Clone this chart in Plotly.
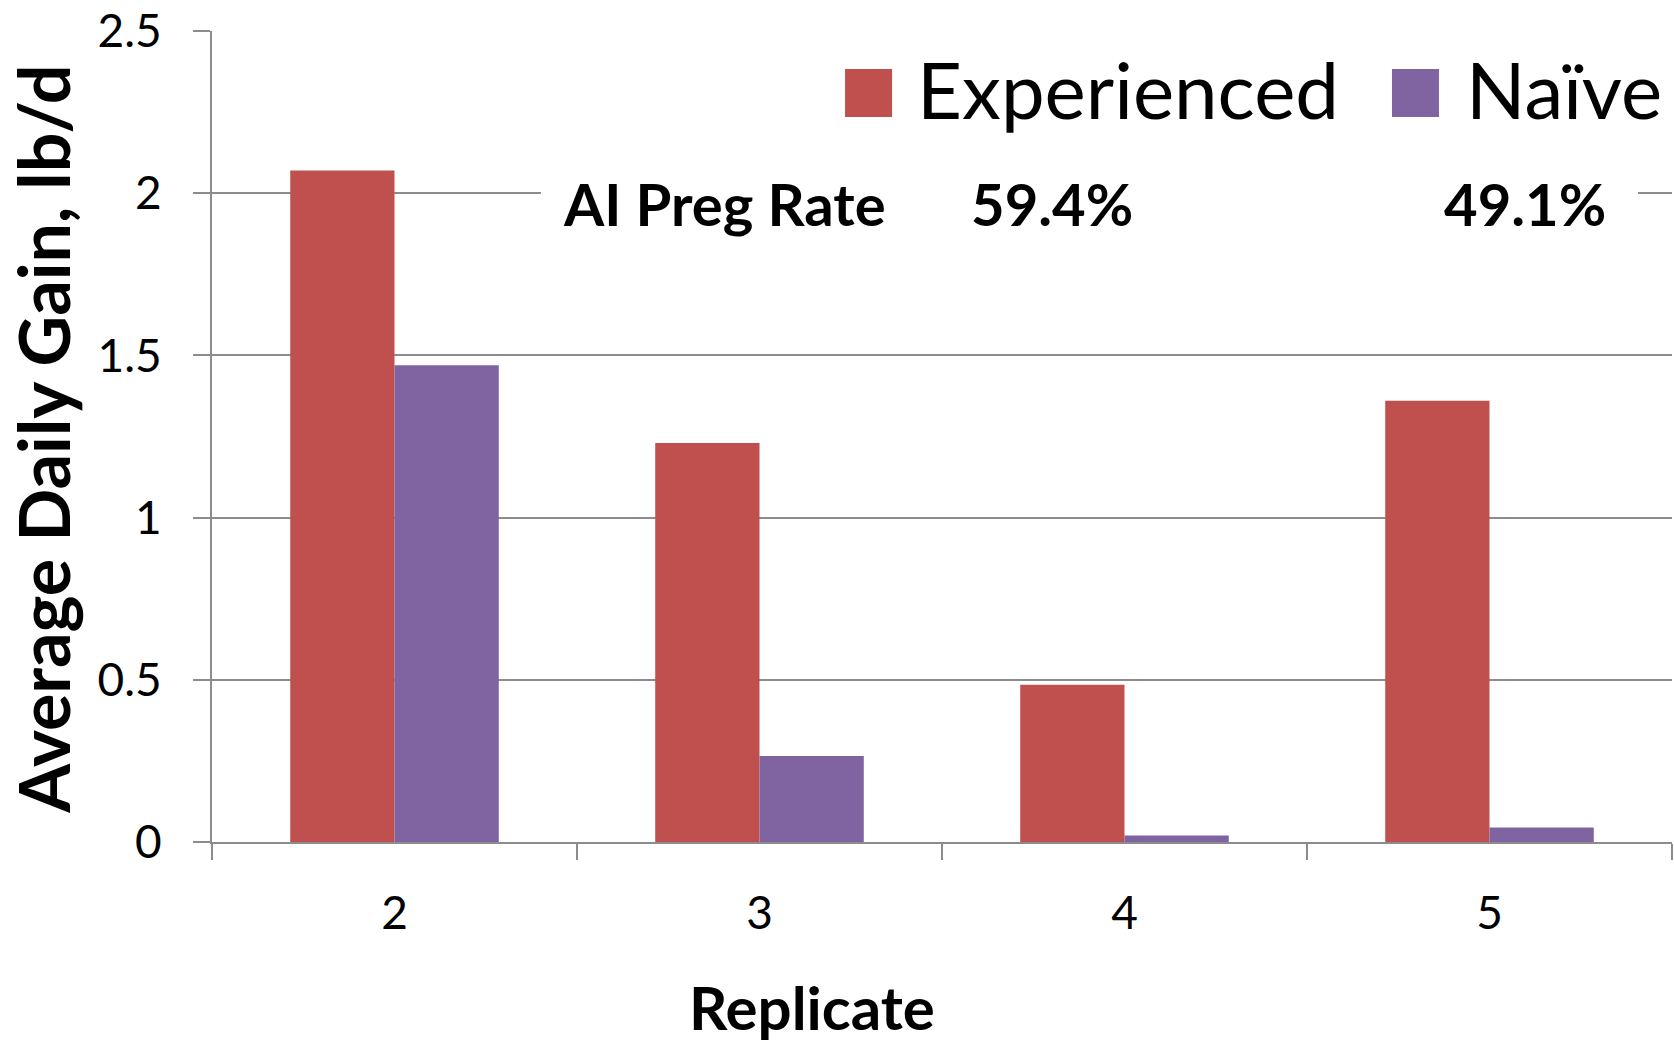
import plotly.graph_objects as go

replicates = ["2", "3", "4", "5"]
experienced = [2.07, 1.23, 0.485, 1.36]
naive = [1.47, 0.265, 0.02, 0.045]
series_names = ["Experienced", "Naïve"]
series_colors = ["#C0504D", "#8064A2"]
preg_label = "AI Preg Rate"
preg_rates = ["59.4%", "49.1%"]
y_ticks = [0, 0.5, 1, 1.5, 2, 2.5]
y_tick_text = ["0", "0.5", "1", "1.5", "2", "2.5"]

FONT = "Lato, 'Open Sans', sans-serif"
GRID = "#8c8c8c"

fig = go.Figure()
for name, vals, col in zip(series_names, [experienced, naive], series_colors):
    fig.add_trace(go.Bar(x=replicates, y=vals, name=name, marker=dict(color=col, line=dict(width=0)),
                         showlegend=False))

fig.update_layout(
    width=1674, height=1042,
    margin=dict(l=212, r=2, t=29, b=200),
    paper_bgcolor="white", plot_bgcolor="white",
    barmode="group", bargap=0.4286, bargroupgap=0,
    font=dict(family=FONT, color="black"),
    showlegend=False,
)
fig.update_xaxes(
    type="category", showline=True, linecolor=GRID, linewidth=2,
    ticks="outside", tickson="boundaries", ticklen=16, tickcolor=GRID, tickwidth=2,
    tickfont=dict(size=46, family=FONT), ticklabelstandoff=30,
    showgrid=False, zeroline=False,
)
fig.update_yaxes(
    range=[0, 2.5], tickvals=y_ticks, ticktext=y_tick_text,
    showline=True, linecolor=GRID, linewidth=2,
    ticks="outside", ticklen=17, tickcolor=GRID, tickwidth=2,
    tickfont=dict(size=46, family=FONT), ticklabelstandoff=22,
    showgrid=True, gridcolor=GRID, gridwidth=2, zeroline=False,
)

# white box behind the annotation row
fig.add_shape(type="rect", xref="paper", yref="y", x0=0.2253, x1=0.9767, y0=1.94, y1=2.06,
              fillcolor="white", line=dict(width=0), layer="above")

# manual legend
sq = [(0.4336, 0.4658), (0.8082, 0.8404)]
txt_x = [0.4815, 0.8575]
for (x0, x1), tx, name, col in zip(sq, txt_x, series_names, series_colors):
    fig.add_shape(type="rect", xref="paper", yref="paper", x0=x0, x1=x1, y0=0.894, y1=0.953,
                  fillcolor=col, line=dict(width=0))
    fig.add_annotation(xref="paper", yref="paper", x=tx, y=0.929, xanchor="left", yanchor="middle",
                       text=name, showarrow=False, font=dict(size=78, family=FONT, color="black"))

# AI preg rate annotations
fig.add_annotation(xref="paper", yref="paper", x=0.2389, y=0.787, xanchor="left", yanchor="middle",
                   text="<b>" + preg_label + "</b>", showarrow=False, font=dict(size=58, family=FONT))
for tx, r in zip([0.5183, 0.8423], preg_rates):
    fig.add_annotation(xref="paper", yref="paper", x=tx, y=0.787, xanchor="left", yanchor="middle",
                       text="<b>" + r + "</b>", showarrow=False, font=dict(size=58, family=FONT))

# axis titles
fig.add_annotation(xref="paper", yref="paper", x=0.411, y=-0.204, xanchor="center", yanchor="middle",
                   text="<b>Replicate</b>", showarrow=False, font=dict(size=60, family=FONT))
fig.add_annotation(xref="paper", yref="paper", x=-0.116, y=0.497, xanchor="center", yanchor="middle",
                   text="<b>Average Daily Gain, lb/d</b>", textangle=-90, showarrow=False,
                   font=dict(size=70, family=FONT))

fig.write_html("out.html")
